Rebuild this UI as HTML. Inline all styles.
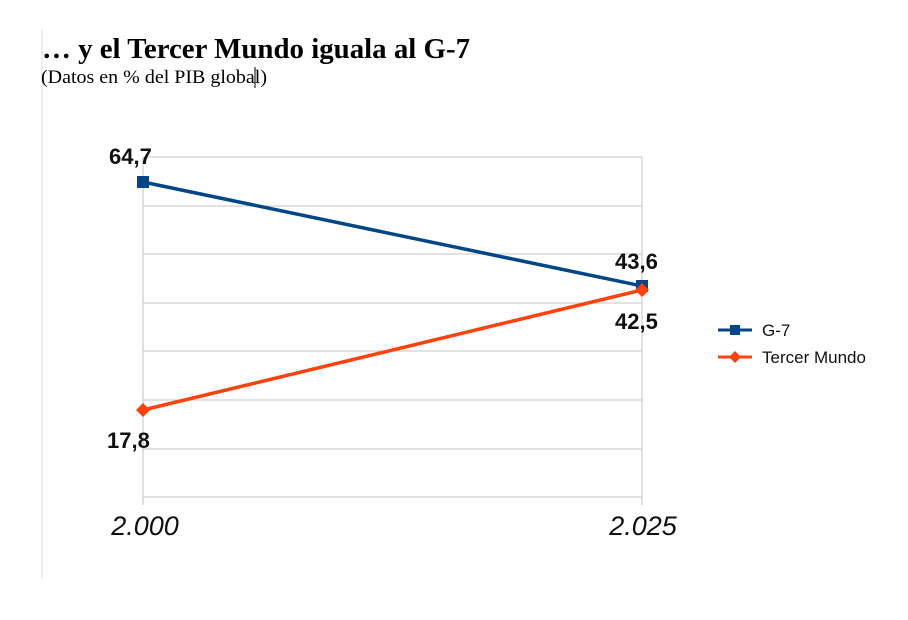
<!DOCTYPE html>
<html><head><meta charset="utf-8"><style>
body{margin:0;background:#fff;}
</style></head><body>
<svg width="908" height="615" xmlns="http://www.w3.org/2000/svg">
<rect width="908" height="615" fill="#fff"/>
<line x1="42" y1="30" x2="42" y2="578" stroke="#ddd" stroke-width="1"/>
<text x="42" y="58" font-family="Liberation Serif, serif" font-weight="bold" font-size="28" textLength="428" lengthAdjust="spacingAndGlyphs" fill="#000">… y el Tercer Mundo iguala al G-7</text>
<text x="41" y="83" font-family="Liberation Serif, serif" font-size="19" textLength="226" lengthAdjust="spacingAndGlyphs" fill="#000">(Datos en % del PIB global)</text>
<line x1="255" y1="67" x2="255" y2="88" stroke="#000" stroke-width="1"/>
<g stroke="#d0d0d0" stroke-width="1.3">
<line x1="143" y1="157" x2="642" y2="157"/>
<line x1="143" y1="206" x2="642" y2="206"/>
<line x1="143" y1="254" x2="642" y2="254"/>
<line x1="143" y1="303" x2="642" y2="303"/>
<line x1="143" y1="351" x2="642" y2="351"/>
<line x1="143" y1="400" x2="642" y2="400"/>
<line x1="143" y1="449" x2="642" y2="449"/>
<line x1="143" y1="497" x2="642" y2="497"/>
<line x1="143" y1="157" x2="143" y2="505"/>
<line x1="642" y1="157" x2="642" y2="505"/>
</g>
<polyline points="143,182 642,286" stroke="#004586" stroke-width="3.5" fill="none"/>
<rect x="137" y="176" width="12" height="12" fill="#004586"/>
<rect x="636" y="280" width="12" height="12" fill="#004586"/>
<polyline points="143,410 642,290" stroke="#ff420e" stroke-width="3.5" fill="none"/>
<polygon points="143,403 150,410 143,417 136,410" fill="#ff420e"/>
<polygon points="642,283 649,290 642,297 635,290" fill="#ff420e"/>
<g font-family="Liberation Sans, sans-serif" font-weight="bold" font-size="22" fill="#111">
<text x="109" y="164">64,7</text>
<text x="615" y="269">43,6</text>
<text x="615" y="329">42,5</text>
<text x="107" y="448">17,8</text>
</g>
<g font-family="Liberation Sans, sans-serif" font-style="italic" font-size="27" fill="#111">
<text x="145" y="535" text-anchor="middle">2.000</text>
<text x="643" y="535" text-anchor="middle">2.025</text>
</g>
<line x1="718" y1="330" x2="752" y2="330" stroke="#004586" stroke-width="3"/>
<rect x="730" y="325" width="10" height="10" fill="#004586"/>
<line x1="718" y1="357" x2="752" y2="357" stroke="#ff420e" stroke-width="3"/>
<polygon points="735,351 741,357 735,363 729,357" fill="#ff420e"/>
<g font-family="Liberation Sans, sans-serif" font-size="17" fill="#111">
<text x="762" y="336">G-7</text>
<text x="762" y="363">Tercer Mundo</text>
</g>
</svg>
</body></html>
